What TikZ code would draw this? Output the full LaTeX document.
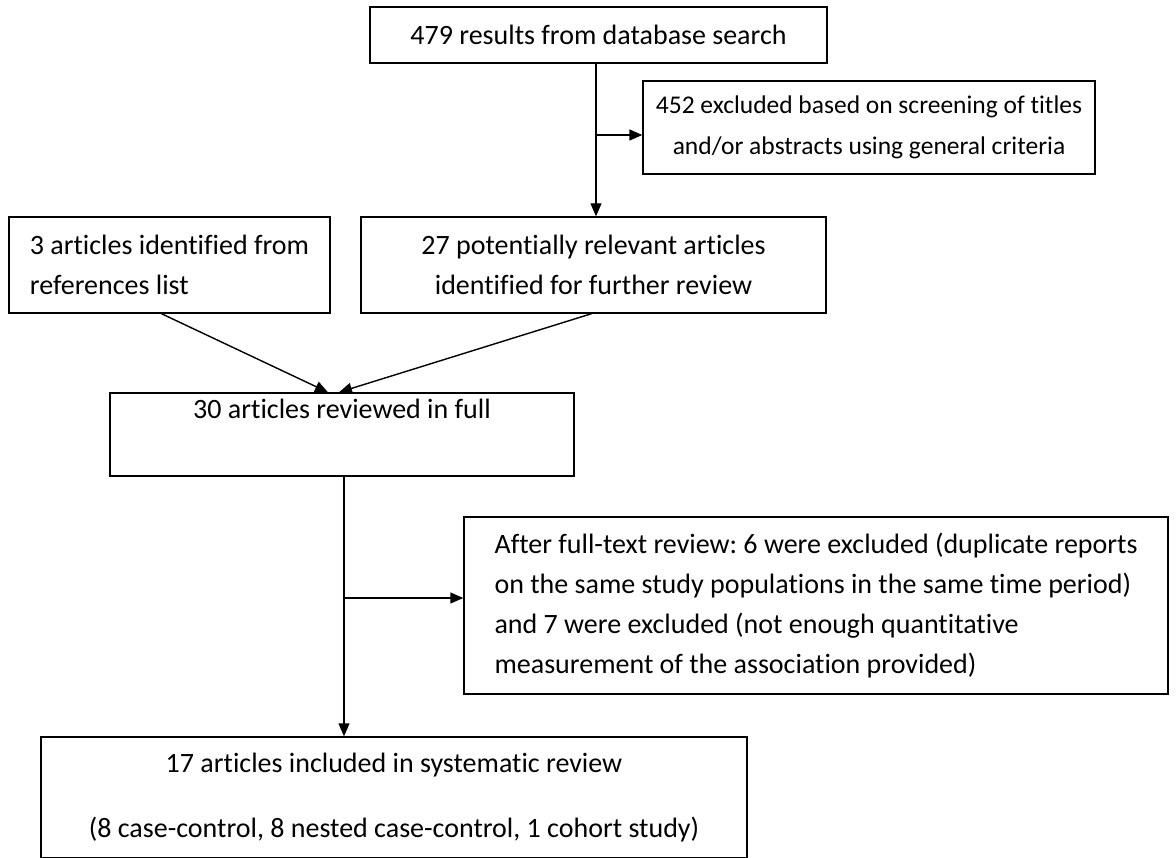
\documentclass[tikz,border=0pt]{standalone}
\usepackage{fontspec}
\setmainfont{Carlito}[Ligatures=NoCommon]
\usetikzlibrary{arrows.meta}
\frenchspacing

\begin{document}
\begin{tikzpicture}[x=1pt, y=-1pt,
    font=\fontsize{28}{40}\selectfont,
    box/.style={draw, line width=1.4pt, inner sep=0pt},
    arr/.style={-{Triangle[length=13pt, width=11pt]}, line width=1.4pt}]
  \useasboundingbox (0,0) rectangle (1176,858);
  % boxes
  \node[box, minimum width=457pt, minimum height=56pt] (search) at (598.5,35)
     {479 results from database search};
  \node[box, align=center, font=\fontsize{25.5}{41}\selectfont,
        minimum width=452pt, minimum height=93pt] (screen) at (869,127.5)
     {452 excluded based on screening of titles\\and/or abstracts using general criteria};
  \node[box, align=left, minimum width=321pt, minimum height=96pt] (refs) at (169.5,265)
     {3 articles identified from\\references list};
  \node[box, align=center, minimum width=465pt, minimum height=96pt] (relev) at (593.5,265)
     {27 potentially relevant articles\\identified for further review};
  \node[box, align=center, minimum width=464pt, minimum height=83pt] (full) at (342,434.5)
     {30 articles reviewed in full\\\strut};
  \node[box, align=left, minimum width=704pt, minimum height=177pt] (after) at (816,605.5)
     {After full-text review: 6 were excluded (duplicate reports\\
      on the same study populations in the same time period)\\
      and 7 were excluded (not enough quantitative\\
      measurement of the association provided)};
  \node[box, align=center, minimum width=706pt, minimum height=121pt] (incl) at (394,797.5)
     {17 articles included in systematic review\\[25pt]
      (8 case-control, 8 nested case-control, 1 cohort study)};
  % branch points
  \coordinate (s1) at (596,135);
  \coordinate (s2) at (344,598);
  % connectors
  \draw[arr] (search.south -| s1) -- (s1 |- relev.north);
  \draw[arr] (s1) -- (s1 -| screen.west);
  \draw[arr] ([xshift=-8pt]refs.south) -- ([xshift=-14pt]full.north);
  \draw[arr] ([xshift=-2pt]relev.south) -- ([xshift=-3pt]full.north);
  \draw[arr] (full.south -| s2) -- (s2 |- incl.north);
  \draw[arr] (s2) -- (s2 -| after.west);
\end{tikzpicture}
\end{document}
